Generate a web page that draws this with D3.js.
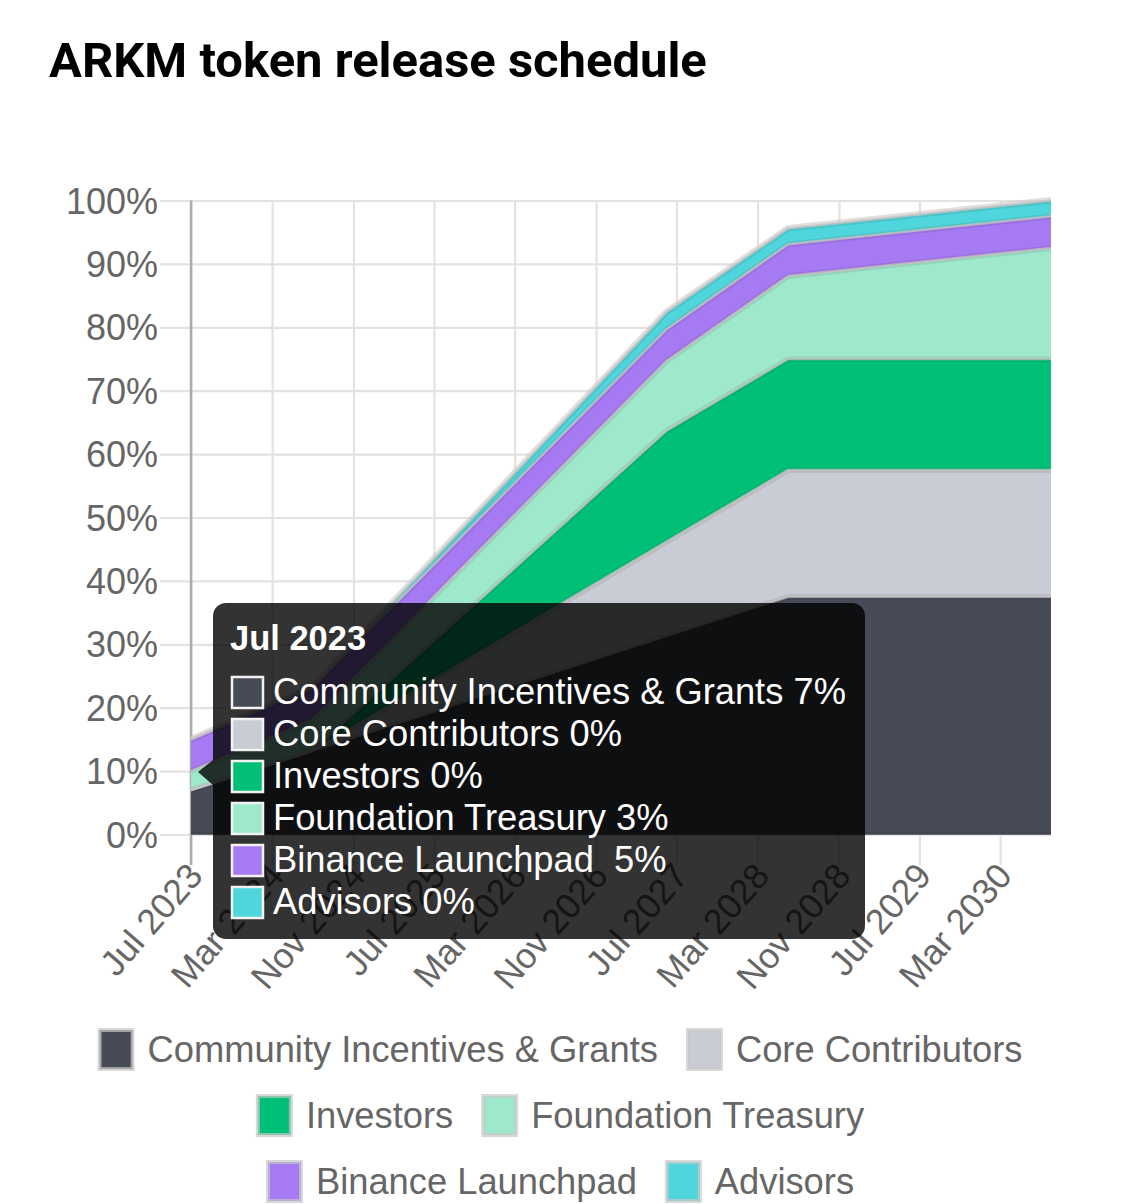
<!DOCTYPE html>
<html>
<head>
<meta charset="utf-8">
<script src="https://cdn.jsdelivr.net/npm/d3@7"></script>
<style>
  body { margin: 0; background: #fff; }
  svg { display: block; }
  text { font-family: "Liberation Sans", Arial, Helvetica, sans-serif; }
</style>
</head>
<body>
<svg id="chart" width="1125" height="1204"></svg>
<script>
// ---------------- DATA ----------------
const chartTitle = "ARKM token release schedule";
const dates = ["2023-07", "2024-07", "2027-06", "2028-06", "2030-08"];
const seriesNames = ["Community Incentives & Grants", "Core Contributors", "Investors",
                     "Foundation Treasury", "Binance Launchpad ", "Advisors"];
const seriesColors = ["#474b57", "#c9ccd4", "#00c077", "#9ee8cc", "#a57af2", "#4fd6dc"];
const communityIncentives = [7, 13.2, 31.3, 37.5, 37.5];
const coreContributors     = [0, 0, 14.9, 20, 20];
const investors            = [0, 0, 17.5, 17.5, 17.5];
const foundationTreasury   = [3, 5.0, 11.0, 13.1, 17.5];
const binanceLaunchpad     = [5, 5, 5, 5, 5];
const advisors             = [0, 0, 2.7, 2.5, 2.5];
const seriesValues = [communityIncentives, coreContributors, investors,
                      foundationTreasury, binanceLaunchpad, advisors];
const xTickLabels = ["Jul 2023", "Mar 2024", "Nov 2024", "Jul 2025", "Mar 2026", "Nov 2026",
                     "Jul 2027", "Mar 2028", "Nov 2028", "Jul 2029", "Mar 2030"];
const yTicks = [0, 10, 20, 30, 40, 50, 60, 70, 80, 90, 100];
const tooltipIndex = 0;

// ---------------- SETUP ----------------
const svg = d3.select("#chart");
svg.append("rect").attr("width", 1125).attr("height", 1204).attr("fill", "#fff");

const parseDate = d3.utcParse("%Y-%m");
const parseTick = d3.utcParse("%b %Y");
const rows = dates.map((d, i) => {
  const r = { date: parseDate(d) };
  seriesValues.forEach((vals, k) => { r[k] = vals[i]; });
  return r;
});

const plot = { left: 191, right: 1051, top: 200.5, bottom: 834.5, gridLeft: 160, tickBottom: 865 };
const x = d3.scaleUtc().domain(d3.extent(rows, d => d.date)).range([plot.left, plot.right]);
const y = d3.scaleLinear().domain([0, 100]).range([plot.bottom, plot.top]);

// Title
const titleEl = svg.append("text")
  .attr("x", 49).attr("y", 77)
  .style("font-family", "Roboto, 'Noto Sans', sans-serif")
  .style("font-weight", 700).style("font-size", "100px").attr("fill", "#000")
  .text(chartTitle);
{
  const w = titleEl.node().getComputedTextLength();
  titleEl.style("font-size", (100 * 658 / w) + "px");
}

const gridColor = "#e2e2e2";

// Y axis with gridlines
const yAxisG = svg.append("g").attr("transform", `translate(${plot.gridLeft},0)`)
  .call(d3.axisLeft(y).tickValues(yTicks).tickFormat(d => d + "%")
    .tickSizeInner(-(plot.right - plot.gridLeft)).tickSizeOuter(0).tickPadding(2));
yAxisG.select(".domain").remove();
yAxisG.selectAll("line").attr("stroke", gridColor).attr("stroke-width", 2.2);
yAxisG.selectAll("text").style("font-size", "36px").attr("fill", "#666")
  .attr("dy", "0.35em");

// X axis with gridlines
const xAxisG = svg.append("g").attr("transform", `translate(0,${plot.top})`)
  .call(d3.axisBottom(x).tickValues(xTickLabels.map(parseTick))
    .tickFormat(d3.utcFormat("%b %Y"))
    .tickSizeInner(plot.tickBottom - plot.top).tickSizeOuter(0));
xAxisG.select(".domain").remove();
xAxisG.selectAll("line").attr("stroke", gridColor).attr("stroke-width", 2.2);
xAxisG.selectAll("text")
  .attr("y", null).attr("dy", null)
  .attr("transform", `translate(4,${plot.tickBottom - plot.top + 4}) rotate(-49)`)
  .attr("text-anchor", "end").attr("dominant-baseline", "central")
  .style("font-size", "35.5px").attr("fill", "#666");

// Y axis line
svg.append("line").attr("x1", plot.left).attr("x2", plot.left)
  .attr("y1", plot.top).attr("y2", plot.tickBottom)
  .attr("stroke", "#ababab").attr("stroke-width", 2.5);

// ---------------- AREAS ----------------
const stacked = d3.stack().keys(d3.range(seriesNames.length))(rows);
const area = d3.area().x(d => x(d.data.date)).y0(d => y(d[0])).y1(d => y(d[1]));
const topLine = d3.line().x(d => x(d.data.date)).y(d => y(d[1]));
const botLine = d3.line().x(d => x(d.data.date)).y(d => y(d[0]));

const areasG = svg.append("g");
// soft outline above the whole stack
areasG.append("path").attr("d", topLine(stacked[stacked.length - 1]))
  .attr("fill", "none").attr("stroke", "rgba(205,200,200,0.6)").attr("stroke-width", 7)
  .attr("stroke-linejoin", "round");
stacked.forEach((s, i) => {
  areasG.append("path").attr("d", area(s)).attr("fill", seriesColors[i]);
});
// darker inner bands along edges
stacked.forEach((s, i) => {
  const dk = d3.color(seriesColors[i]).darker(0.25).formatHex();
  const clipId = "clip" + i;
  svg.append("clipPath").attr("id", clipId).append("path").attr("d", area(s));
  const g = areasG.append("g").attr("clip-path", `url(#${clipId})`);
  g.append("path").attr("d", topLine(s)).attr("fill", "none").attr("stroke", dk).attr("stroke-width", 6);
  g.append("path").attr("d", botLine(s)).attr("fill", "none").attr("stroke", dk).attr("stroke-width", 5);
});
// light border line on each dataset
stacked.forEach((s, i) => {
  areasG.append("path").attr("d", topLine(s)).attr("fill", "none")
    .attr("stroke", "rgba(200,195,195,0.75)").attr("stroke-width", 2.5)
    .attr("stroke-linejoin", "round");
});

// ---------------- LEGEND ----------------
const legendG = svg.append("g");
const legendFont = 36.3, boxW = 33, boxH = 39, itemGap = 28;
const legendMaxWidth = 960, legendCenter = 560;
const legendBaselines = [1062, 1128, 1194];
const measure = svg.append("text").style("font-size", legendFont + "px");
const items = seriesNames.map((n, i) => {
  measure.text(n.trim());
  return { name: n.trim(), color: seriesColors[i], w: 2 + boxW + 2 + 13 + measure.node().getComputedTextLength() };
});
measure.remove();
const legendRows = [];
let cur = [], curW = 0;
items.forEach(it => {
  const add = (cur.length ? itemGap : 0) + it.w;
  if (cur.length && curW + add > legendMaxWidth) { legendRows.push(cur); cur = []; curW = 0; }
  curW += (cur.length ? itemGap : 0) + it.w;
  cur.push(it);
});
if (cur.length) legendRows.push(cur);
legendRows.forEach((row, r) => {
  const total = d3.sum(row, d => d.w) + itemGap * (row.length - 1);
  let cx = legendCenter - total / 2;
  const base = legendBaselines[r];
  row.forEach(it => {
    legendG.append("rect").attr("x", cx + 2).attr("y", base - 32)
      .attr("width", boxW).attr("height", boxH)
      .attr("fill", it.color).attr("stroke", "rgba(200,200,200,0.7)").attr("stroke-width", 4);
    legendG.append("text").attr("x", cx + 2 + boxW + 2 + 13).attr("y", base)
      .style("font-size", legendFont + "px").attr("fill", "#666").text(it.name);
    cx += it.w + itemGap;
  });
});

// ---------------- TOOLTIP ----------------
const tip = svg.append("g");
const tipBg = "rgba(0,0,0,0.8)";
tip.append("rect").attr("x", 213).attr("y", 603).attr("width", 652).attr("height", 336)
  .attr("rx", 13).attr("fill", tipBg);
tip.append("path").attr("d", "M213,760 L198,772 L213,785 Z").attr("fill", tipBg);
tip.append("text").attr("x", 230).attr("y", 650)
  .style("font-size", "34.5px").style("font-weight", 700).attr("fill", "#fff")
  .text(d3.utcFormat("%b %Y")(rows[tooltipIndex].date));
seriesNames.forEach((n, i) => {
  const base = 704 + 42 * i;
  tip.append("rect").attr("x", 232).attr("y", base - 27).attr("width", 31).attr("height", 31)
    .attr("fill", seriesColors[i]).attr("stroke", "#f2f2f2").attr("stroke-width", 2.5);
  tip.append("text").attr("x", 273).attr("y", base)
    .style("font-size", "36.3px").style("white-space", "pre").attr("fill", "#fff")
    .text(n + " " + Math.round(seriesValues[i][tooltipIndex]) + "%");
});
</script>
</body>
</html>
